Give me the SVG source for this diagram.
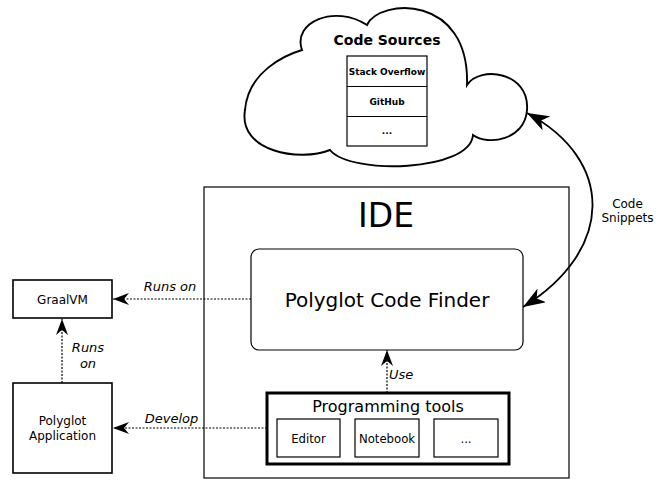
<svg xmlns="http://www.w3.org/2000/svg" width="667" height="480" viewBox="0 0 667 480">
<style>
text{font-family:"DejaVu Sans","Liberation Sans",sans-serif;fill:#000}
.box{fill:#fff;stroke:#000;stroke-width:1.6}
.thin{fill:#fff;stroke:#000;stroke-width:1.2}
.dot{fill:none;stroke:#000;stroke-width:1.2;stroke-dasharray:2,1.5}
.lbl{font-style:italic;font-size:13px}
.b{font-weight:bold}
</style>
<defs>
<marker id="ah" markerUnits="userSpaceOnUse" markerWidth="16" markerHeight="12" viewBox="0 0 16 12" refX="16" refY="6" orient="auto">
<path d="M16,6 L0,0 L5,6 L0,12 Z" fill="#000"/>
</marker>
<marker id="big" markerUnits="userSpaceOnUse" markerWidth="22" markerHeight="16" viewBox="0 0 22 16" refX="22" refY="8" orient="auto-start-reverse">
<path d="M22,8 L0,0 L6,8 L0,16 Z" fill="#000"/>
</marker>
</defs>

<g id="code-sources">
<path fill="#fff" stroke="#000" stroke-width="1.9" d="M302,50 C292,22 335,4 367,25 C380,-2 470,-6 467,85 C480,65 530,72 527,110 C525,140 488,146 473,135 C470,172 350,175 330,150 C300,162 238,152 245,110 C248,72 285,55 302,50 Z"/>
<text x="387" y="45" font-size="14" class="b" text-anchor="middle">Code Sources</text>
<rect class="thin" x="347" y="56" width="80" height="90"/>
<line x1="347" y1="86.5" x2="427" y2="86.5" stroke="#000" stroke-width="1.2"/>
<line x1="347" y1="116.5" x2="427" y2="116.5" stroke="#000" stroke-width="1.2"/>
<text x="387" y="75" font-size="9" class="b" text-anchor="middle">Stack Overflow</text>
<text x="387" y="105" font-size="9" class="b" text-anchor="middle">GitHub</text>
<text x="387" y="134" font-size="9" class="b" text-anchor="middle">...</text>
</g>

<g id="ide">
<rect class="thin" x="204" y="187" width="365" height="291"/>
<text x="386" y="227" font-size="33" text-anchor="middle">IDE</text>
</g>

<g id="polyglot-code-finder">
<rect class="thin" x="251" y="249" width="272" height="101" rx="8" ry="8"/>
<text x="387" y="307" font-size="20" text-anchor="middle">Polyglot Code Finder</text>
</g>

<g id="programming-tools">
<rect x="267" y="393" width="242" height="71" fill="#fff" stroke="#000" stroke-width="3"/>
<text x="388" y="412" font-size="16" text-anchor="middle">Programming tools</text>
</g>
<g id="editor">
<rect class="thin" x="277" y="419" width="63" height="38"/>
<text x="308.5" y="443" font-size="11.7" text-anchor="middle">Editor</text>
</g>
<g id="notebook">
<rect class="thin" x="355" y="419" width="64" height="38"/>
<text x="387" y="443" font-size="11.7" text-anchor="middle">Notebook</text>
</g>
<g id="more-tools">
<rect class="thin" x="434" y="419" width="64" height="38"/>
<text x="466" y="443" font-size="11.7" text-anchor="middle">...</text>
</g>

<g id="graalvm">
<rect class="box" x="13" y="280" width="99" height="38"/>
<text x="62.5" y="304" font-size="12" text-anchor="middle">GraalVM</text>
</g>

<g id="polyglot-application">
<rect class="box" x="13" y="383" width="99" height="90"/>
<text x="62.5" y="425" font-size="12" text-anchor="middle">Polyglot</text>
<text x="62.5" y="440" font-size="12" text-anchor="middle">Application</text>
</g>

<g id="connectors">
<path class="dot" d="M251,299 L113,299" marker-end="url(#ah)"/>
<path class="dot" d="M62,383 L62,319" marker-end="url(#ah)"/>
<path class="dot" d="M267,428 L113,428" marker-end="url(#ah)"/>
<path class="dot" d="M387,393 L387,350" marker-end="url(#ah)"/>
<path d="M527,113 C615,160 615,250 523,307" fill="none" stroke="#000" stroke-width="1.8" marker-start="url(#big)" marker-end="url(#big)"/>
<text x="170" y="291" class="lbl" text-anchor="middle">Runs on</text>
<text x="88" y="352" class="lbl" text-anchor="middle">Runs</text>
<text x="88" y="368" class="lbl" text-anchor="middle">on</text>
<text x="171.5" y="423" class="lbl" text-anchor="middle">Develop</text>
<text x="389" y="379" class="lbl">Use</text>
<text x="627.5" y="208" font-size="12" text-anchor="middle">Code</text>
<text x="627.5" y="222" font-size="12" text-anchor="middle">Snippets</text>
</g>
</svg>
